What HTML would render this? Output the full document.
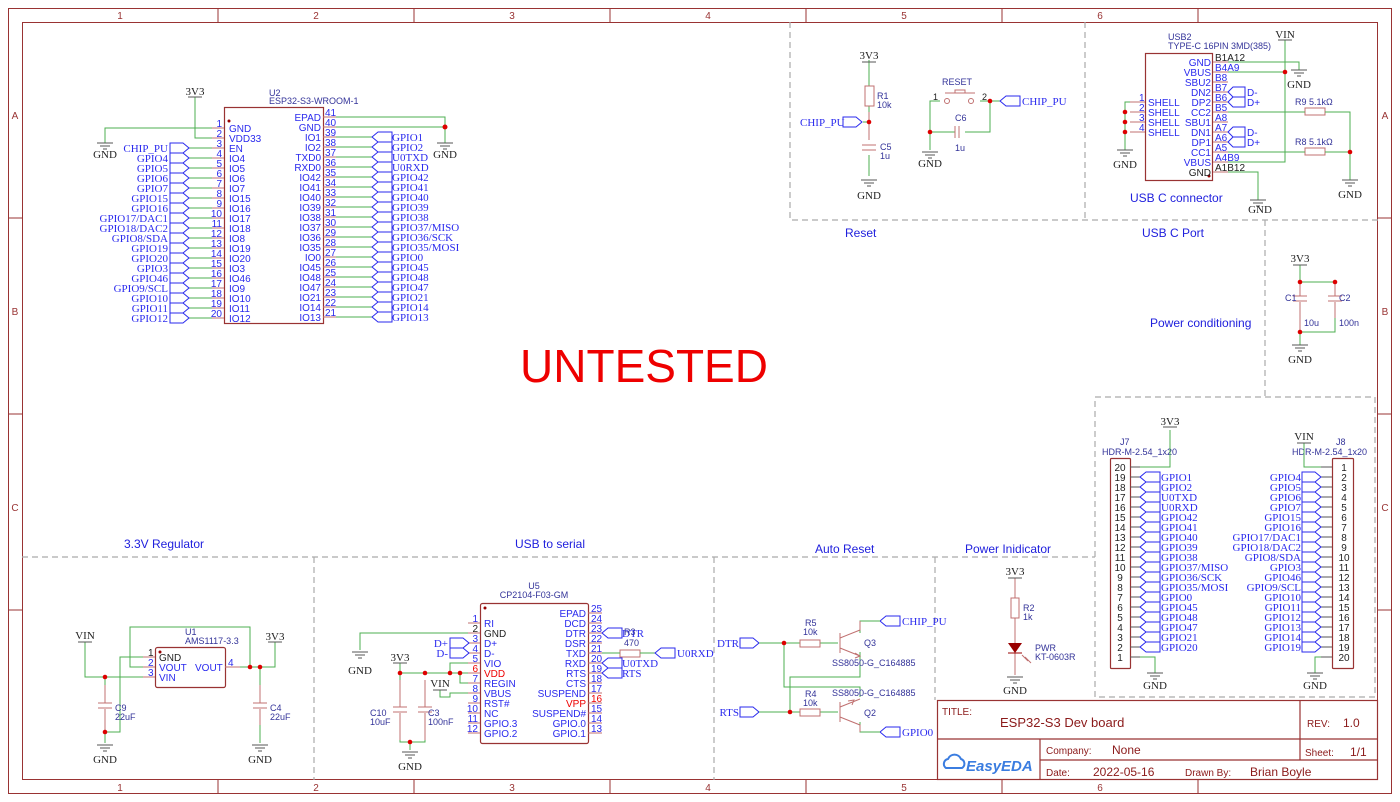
<!DOCTYPE html>
<html><head><meta charset="utf-8"><style>
html,body{margin:0;padding:0;background:#fff}
svg{display:block}
.s{font-family:"Liberation Sans",sans-serif}
.r{font-family:"Liberation Serif",serif}
</style></head><body>
<svg width="1400" height="802" viewBox="0 0 1400 802" xmlns="http://www.w3.org/2000/svg">
<defs>
<g id="gnd" stroke="#555" stroke-width="1" fill="none"><path d="M-8,0H8M-5,3H5M-2,6H2"/></g>
<path id="fr" d="M0,-5H13L19,0L13,5H0Z" fill="none" stroke="#2a2aee" stroke-width="1"/>
<path id="fl" d="M0,0L6,-5H20V5H6Z" fill="none" stroke="#2a2aee" stroke-width="1"/>
<g id="pwr" stroke="#555"><path d="M-7,0H7"/></g>
</defs>
<rect width="1400" height="802" fill="#fff"/>
<!-- frame -->
<g stroke="#993333" fill="none" stroke-width="1">
<rect x="8.5" y="8.5" width="1383" height="785"/>
<rect x="22.5" y="22.5" width="1355" height="757"/>
<path d="M218,8V22M414,8V22M610,8V22M806,8V22M1002,8V22M1198,8V22M218,780V794M414,780V794M610,780V794M806,780V794M1002,780V794M1198,780V794M8,218H22M8,414H22M8,610H22M1378,218H1392M1378,414H1392M1378,610H1392"/>
</g>
<g class="s" font-size="10" fill="#993333" text-anchor="middle">
<text x="120" y="19">1</text><text x="316" y="19">2</text><text x="512" y="19">3</text><text x="708" y="19">4</text><text x="904" y="19">5</text><text x="1100" y="19">6</text>
<text x="120" y="791">1</text><text x="316" y="791">2</text><text x="512" y="791">3</text><text x="708" y="791">4</text><text x="904" y="791">5</text><text x="1100" y="791">6</text>
<text x="15" y="119">A</text><text x="15" y="315">B</text><text x="15" y="511">C</text>
<text x="1385" y="119">A</text><text x="1385" y="315">B</text><text x="1385" y="511">C</text>
</g>
<!-- dashed sections -->
<g stroke="#aaa" stroke-dasharray="6,4" fill="none" stroke-width="1.2">
<path d="M790,22V220H1378M1085,22V220M1265,220V397M1095,397H1375V697H1095ZM22,557H1095M314,557V780M714,557V780M935,557V700"/>
</g>
<g class="s" font-size="12" fill="#2020dd">
<text x="845" y="237">Reset</text><text x="1142" y="237">USB C Port</text><text x="1130" y="202">USB C connector</text>
<text x="1150" y="327">Power conditioning</text><text x="124" y="548">3.3V Regulator</text><text x="515" y="548">USB to serial</text>
<text x="815" y="553">Auto Reset</text><text x="965" y="553">Power Inidicator</text>
</g>
<text x="644" y="382" class="s" font-size="46" fill="#ee0000" text-anchor="middle">UNTESTED</text>

<!-- ===== U2 ===== -->
<rect x="224.5" y="107.5" width="99" height="216" fill="none" stroke="#993333" stroke-width="1.2"/>
<circle cx="229" cy="121" r="1.5" fill="#990000"/>
<text x="269" y="96" class="s" font-size="9" fill="#333399">U2</text>
<text x="269" y="104" class="s" font-size="9" fill="#333399">ESP32-S3-WROOM-1</text>
<g stroke="#c07070"><path d="M212,128H224M212,138H224M212,148H224M212,158H224M212,168H224M212,178H224M212,188H224M212,198H224M212,208H224M212,218H224M212,228H224M212,238H224M212,248H224M212,258H224M212,268H224M212,278H224M212,288H224M212,298H224M212,308H224M212,318H224"/>
<path d="M323,117H336M323,127H336M323,137H336M323,147H336M323,157H336M323,167H336M323,177H336M323,187H336M323,197H336M323,207H336M323,217H336M323,227H336M323,237H336M323,247H336M323,257H336M323,267H336M323,277H336M323,287H336M323,297H336M323,307H336M323,317H336"/></g>
<g stroke="#4caf50" fill="none"><path d="M212,128H105V143M212,138H195V97M189,148H212M189,158H212M189,168H212M189,178H212M189,188H212M189,198H212M189,208H212M189,218H212M189,228H212M189,238H212M189,248H212M189,258H212M189,268H212M189,278H212M189,288H212M189,298H212M189,308H212M189,318H212"/>
<path d="M336,117H445V143M336,127H445M336,137H372M336,147H372M336,157H372M336,167H372M336,177H372M336,187H372M336,197H372M336,207H372M336,217H372M336,227H372M336,237H372M336,247H372M336,257H372M336,267H372M336,277H372M336,287H372M336,297H372M336,307H372M336,317H372"/></g>
<circle cx="445" cy="127" r="2.5" fill="#d00"/>
<use href="#gnd" x="105" y="143"/><use href="#gnd" x="445" y="143"/><use href="#pwr" x="195" y="97"/>
<g class="r" font-size="11" fill="#222" text-anchor="middle"><text x="105" y="158">GND</text><text x="445" y="158">GND</text><text x="195" y="95">3V3</text></g>
<g><use href="#fr" x="170" y="148"/><use href="#fr" x="170" y="158"/><use href="#fr" x="170" y="168"/><use href="#fr" x="170" y="178"/><use href="#fr" x="170" y="188"/><use href="#fr" x="170" y="198"/><use href="#fr" x="170" y="208"/><use href="#fr" x="170" y="218"/><use href="#fr" x="170" y="228"/><use href="#fr" x="170" y="238"/><use href="#fr" x="170" y="248"/><use href="#fr" x="170" y="258"/><use href="#fr" x="170" y="268"/><use href="#fr" x="170" y="278"/><use href="#fr" x="170" y="288"/><use href="#fr" x="170" y="298"/><use href="#fr" x="170" y="308"/><use href="#fr" x="170" y="318"/>
<use href="#fl" x="372" y="137"/><use href="#fl" x="372" y="147"/><use href="#fl" x="372" y="157"/><use href="#fl" x="372" y="167"/><use href="#fl" x="372" y="177"/><use href="#fl" x="372" y="187"/><use href="#fl" x="372" y="197"/><use href="#fl" x="372" y="207"/><use href="#fl" x="372" y="217"/><use href="#fl" x="372" y="227"/><use href="#fl" x="372" y="237"/><use href="#fl" x="372" y="247"/><use href="#fl" x="372" y="257"/><use href="#fl" x="372" y="267"/><use href="#fl" x="372" y="277"/><use href="#fl" x="372" y="287"/><use href="#fl" x="372" y="297"/><use href="#fl" x="372" y="307"/><use href="#fl" x="372" y="317"/></g>
<g class="r" font-size="11" fill="#2a2aee" text-anchor="end">
<text x="168" y="152">CHIP_PU</text><text x="168" y="162">GPIO4</text><text x="168" y="172">GPIO5</text><text x="168" y="182">GPIO6</text><text x="168" y="192">GPIO7</text><text x="168" y="202">GPIO15</text><text x="168" y="212">GPIO16</text><text x="168" y="222">GPIO17/DAC1</text><text x="168" y="232">GPIO18/DAC2</text><text x="168" y="242">GPIO8/SDA</text><text x="168" y="252">GPIO19</text><text x="168" y="262">GPIO20</text><text x="168" y="272">GPIO3</text><text x="168" y="282">GPIO46</text><text x="168" y="292">GPIO9/SCL</text><text x="168" y="302">GPIO10</text><text x="168" y="312">GPIO11</text><text x="168" y="322">GPIO12</text></g>
<g class="r" font-size="11" fill="#2a2aee">
<text x="392" y="141">GPIO1</text><text x="392" y="151">GPIO2</text><text x="392" y="161">U0TXD</text><text x="392" y="171">U0RXD</text><text x="392" y="181">GPIO42</text><text x="392" y="191">GPIO41</text><text x="392" y="201">GPIO40</text><text x="392" y="211">GPIO39</text><text x="392" y="221">GPIO38</text><text x="392" y="231">GPIO37/MISO</text><text x="392" y="241">GPIO36/SCK</text><text x="392" y="251">GPIO35/MOSI</text><text x="392" y="261">GPIO0</text><text x="392" y="271">GPIO45</text><text x="392" y="281">GPIO48</text><text x="392" y="291">GPIO47</text><text x="392" y="301">GPIO21</text><text x="392" y="311">GPIO14</text><text x="392" y="321">GPIO13</text></g>
<g class="s" font-size="10" fill="#2a2aee">
<text x="229" y="132">GND</text><text x="229" y="142">VDD33</text><text x="229" y="152">EN</text><text x="229" y="162">IO4</text><text x="229" y="172">IO5</text><text x="229" y="182">IO6</text><text x="229" y="192">IO7</text><text x="229" y="202">IO15</text><text x="229" y="212">IO16</text><text x="229" y="222">IO17</text><text x="229" y="232">IO18</text><text x="229" y="242">IO8</text><text x="229" y="252">IO19</text><text x="229" y="262">IO20</text><text x="229" y="272">IO3</text><text x="229" y="282">IO46</text><text x="229" y="292">IO9</text><text x="229" y="302">IO10</text><text x="229" y="312">IO11</text><text x="229" y="322">IO12</text>
<g text-anchor="end"><text x="222" y="127">1</text><text x="222" y="137">2</text><text x="222" y="147">3</text><text x="222" y="157">4</text><text x="222" y="167">5</text><text x="222" y="177">6</text><text x="222" y="187">7</text><text x="222" y="197">8</text><text x="222" y="207">9</text><text x="222" y="217">10</text><text x="222" y="227">11</text><text x="222" y="237">12</text><text x="222" y="247">13</text><text x="222" y="257">14</text><text x="222" y="267">15</text><text x="222" y="277">16</text><text x="222" y="287">17</text><text x="222" y="297">18</text><text x="222" y="307">19</text><text x="222" y="317">20</text>
<text x="321" y="121">EPAD</text><text x="321" y="131">GND</text><text x="321" y="141">IO1</text><text x="321" y="151">IO2</text><text x="321" y="161">TXD0</text><text x="321" y="171">RXD0</text><text x="321" y="181">IO42</text><text x="321" y="191">IO41</text><text x="321" y="201">IO40</text><text x="321" y="211">IO39</text><text x="321" y="221">IO38</text><text x="321" y="231">IO37</text><text x="321" y="241">IO36</text><text x="321" y="251">IO35</text><text x="321" y="261">IO0</text><text x="321" y="271">IO45</text><text x="321" y="281">IO48</text><text x="321" y="291">IO47</text><text x="321" y="301">IO21</text><text x="321" y="311">IO14</text><text x="321" y="321">IO13</text></g>
<text x="325" y="116">41</text><text x="325" y="126">40</text><text x="325" y="136">39</text><text x="325" y="146">38</text><text x="325" y="156">37</text><text x="325" y="166">36</text><text x="325" y="176">35</text><text x="325" y="186">34</text><text x="325" y="196">33</text><text x="325" y="206">32</text><text x="325" y="216">31</text><text x="325" y="226">30</text><text x="325" y="236">29</text><text x="325" y="246">28</text><text x="325" y="256">27</text><text x="325" y="266">26</text><text x="325" y="276">25</text><text x="325" y="286">24</text><text x="325" y="296">23</text><text x="325" y="306">22</text><text x="325" y="316">21</text>
</g>

<!-- ===== Reset ===== -->
<g stroke="#4caf50" fill="none"><path d="M869,60V86M869,106V140M869,155V176M863,122H869M940,101H930V150M930,132H955M965,132H990V101H980M990,101H1000"/></g>
<g stroke="#c07070" fill="none"><rect x="865" y="86" width="9" height="20"/><path d="M862,145H876M862,150H876M869,112V140M955,126V138M959,126V138"/><path d="M945,93H975M955,93V90H965V93"/></g>
<circle cx="947" cy="101" r="2.5" fill="none" stroke="#c07070"/><circle cx="971" cy="101" r="2.5" fill="none" stroke="#c07070"/>
<g fill="#d00"><circle cx="869" cy="122" r="2.3"/><circle cx="930" cy="132" r="2.3"/><circle cx="990" cy="101" r="2.3"/></g>
<use href="#pwr" x="869" y="62"/><use href="#gnd" x="869" y="180"/><use href="#gnd" x="930" y="152"/>
<use href="#fr" x="843" y="122"/><use href="#fl" x="1000" y="101"/>
<g class="r" font-size="11" fill="#222" text-anchor="middle"><text x="869" y="59">3V3</text><text x="869" y="199">GND</text><text x="930" y="167">GND</text></g>
<g class="r" font-size="11" fill="#2a2aee"><text x="800" y="126">CHIP_PU</text><text x="1022" y="105">CHIP_PU</text></g>
<g class="s" font-size="9" fill="#333399"><text x="877" y="99">R1</text><text x="877" y="108">10k</text><text x="880" y="150">C5</text><text x="880" y="159">1u</text><text x="942" y="85">RESET</text><text x="955" y="121">C6</text><text x="955" y="151">1u</text><text x="933" y="100" fill="#222">1</text><text x="982" y="100" fill="#222">2</text></g>

<!-- ===== USB C ===== -->
<rect x="1145.5" y="53.5" width="67" height="127" fill="none" stroke="#993333" stroke-width="1.2"/>
<circle cx="1209" cy="176" r="1.5" fill="#990000"/>
<g class="s" font-size="9" fill="#333399"><text x="1168" y="40">USB2</text><text x="1168" y="49">TYPE-C 16PIN 3MD(385)</text><text x="1295" y="105">R9 5.1kΩ</text><text x="1295" y="145">R8 5.1kΩ</text></g>
<g stroke="#c07070"><path d="M1213,62H1228M1213,72H1228M1213,82H1228M1213,92H1228M1213,102H1228M1213,112H1228M1213,122H1228M1213,132H1228M1213,142H1228M1213,152H1228M1213,162H1228M1213,172H1228M1130,102H1145M1130,112H1145M1130,122H1145M1130,132H1145"/><rect x="1305" y="108" width="20" height="7" fill="none"/><rect x="1305" y="148" width="20" height="7" fill="none"/></g>
<g stroke="#4caf50" fill="none"><path d="M1228,62H1299V70M1228,72H1285M1285,40V162H1228M1228,112H1305M1325,112H1350V180M1228,152H1305M1325,152H1350M1228,172H1258V200M1130,102H1125V150"/></g>
<g fill="#d00"><circle cx="1285" cy="72" r="2.3"/><circle cx="1350" cy="152" r="2.3"/><circle cx="1125" cy="112" r="2.3"/><circle cx="1125" cy="122" r="2.3"/><circle cx="1125" cy="132" r="2.3"/></g>
<g stroke="#2a2aee" fill="none"><path d="M1228,92L1233,87H1245V97H1233ZM1228,102L1233,97H1245V107H1233ZM1228,132L1233,127H1245V137H1233ZM1228,142L1233,137H1245V147H1233Z"/></g>
<use href="#gnd" x="1299" y="70"/><use href="#gnd" x="1350" y="180"/><use href="#gnd" x="1258" y="200"/><use href="#gnd" x="1125" y="150"/><use href="#pwr" x="1285" y="40"/>
<g class="r" font-size="11" fill="#222" text-anchor="middle"><text x="1285" y="38">VIN</text><text x="1299" y="88">GND</text><text x="1350" y="198">GND</text><text x="1260" y="213">GND</text><text x="1125" y="168">GND</text></g>
<g class="s" font-size="10" fill="#2a2aee"><g text-anchor="end"><text x="1211" y="66">GND</text><text x="1211" y="76">VBUS</text><text x="1211" y="86">SBU2</text><text x="1211" y="96">DN2</text><text x="1211" y="106">DP2</text><text x="1211" y="116">CC2</text><text x="1211" y="126">SBU1</text><text x="1211" y="136">DN1</text><text x="1211" y="146">DP1</text><text x="1211" y="156">CC1</text><text x="1211" y="166">VBUS</text><text x="1211" y="176" fill="#222">GND</text></g>
<text x="1148" y="106">SHELL</text><text x="1148" y="116">SHELL</text><text x="1148" y="126">SHELL</text><text x="1148" y="136">SHELL</text>
<text x="1139" y="101">1</text><text x="1139" y="111">2</text><text x="1139" y="121">3</text><text x="1139" y="131">4</text>
<text x="1215" y="61" fill="#222">B1A12</text><text x="1215" y="71">B4A9</text><text x="1215" y="81">B8</text><text x="1215" y="91">B7</text><text x="1215" y="101">B6</text><text x="1215" y="111">B5</text><text x="1215" y="121">A8</text><text x="1215" y="131">A7</text><text x="1215" y="141">A6</text><text x="1215" y="151">A5</text><text x="1215" y="161">A4B9</text><text x="1215" y="171" fill="#222">A1B12</text>
<text x="1247" y="96">D-</text><text x="1247" y="106">D+</text><text x="1247" y="136">D-</text><text x="1247" y="146">D+</text></g>

<!-- ===== Power conditioning ===== -->
<g stroke="#4caf50" fill="none"><path d="M1300,265V282H1335M1300,332H1335V315M1300,332V345"/></g>
<g stroke="#c07070" fill="none"><path d="M1300,282V296M1300,302V330M1335,282V296M1335,302V318M1293,296H1307M1293,301H1307M1328,296H1342M1328,301H1342"/></g>
<g fill="#d00"><circle cx="1300" cy="282" r="2.3"/><circle cx="1335" cy="282" r="2.3"/><circle cx="1300" cy="332" r="2.3"/></g>
<use href="#pwr" x="1300" y="265"/><use href="#gnd" x="1300" y="345"/>
<g class="r" font-size="11" fill="#222" text-anchor="middle"><text x="1300" y="262">3V3</text><text x="1300" y="363">GND</text></g>
<g class="s" font-size="9" fill="#333399"><text x="1285" y="301">C1</text><text x="1339" y="301">C2</text><text x="1304" y="326">10u</text><text x="1339" y="326">100n</text></g>

<!-- ===== Headers ===== -->
<rect x="1110.5" y="458.5" width="20" height="210" rx="1" fill="none" stroke="#993333" stroke-width="1.2"/>
<rect x="1332.5" y="458.5" width="21" height="210" rx="1" fill="none" stroke="#993333" stroke-width="1.2"/>
<g class="s" font-size="9" fill="#333399"><text x="1120" y="445">J7</text><text x="1102" y="455">HDR-M-2.54_1x20</text><text x="1336" y="445">J8</text><text x="1292" y="455">HDR-M-2.54_1x20</text></g>
<g stroke="#555"><path d="M1130,467H1140M1130,477H1140M1130,487H1140M1130,497H1140M1130,507H1140M1130,517H1140M1130,527H1140M1130,537H1140M1130,547H1140M1130,557H1140M1130,567H1140M1130,577H1140M1130,587H1140M1130,597H1140M1130,607H1140M1130,617H1140M1130,627H1140M1130,637H1140M1130,647H1140M1130,657H1140"/>
<path d="M1321,467H1332M1321,477H1332M1321,487H1332M1321,497H1332M1321,507H1332M1321,517H1332M1321,527H1332M1321,537H1332M1321,547H1332M1321,557H1332M1321,567H1332M1321,577H1332M1321,587H1332M1321,597H1332M1321,607H1332M1321,617H1332M1321,627H1332M1321,637H1332M1321,647H1332M1321,657H1332"/></g>
<g stroke="#4caf50" fill="none"><path d="M1140,467H1170V430M1140,657H1155V673M1304,443V467H1321M1321,657H1315V673"/></g>
<use href="#pwr" x="1170" y="427"/><use href="#pwr" x="1304" y="443"/><use href="#gnd" x="1155" y="673"/><use href="#gnd" x="1315" y="673"/>
<g class="r" font-size="11" fill="#222" text-anchor="middle"><text x="1170" y="425">3V3</text><text x="1304" y="440">VIN</text><text x="1155" y="689">GND</text><text x="1315" y="689">GND</text></g>
<g><use href="#fl" x="1140" y="477"/><use href="#fl" x="1140" y="487"/><use href="#fl" x="1140" y="497"/><use href="#fl" x="1140" y="507"/><use href="#fl" x="1140" y="517"/><use href="#fl" x="1140" y="527"/><use href="#fl" x="1140" y="537"/><use href="#fl" x="1140" y="547"/><use href="#fl" x="1140" y="557"/><use href="#fl" x="1140" y="567"/><use href="#fl" x="1140" y="577"/><use href="#fl" x="1140" y="587"/><use href="#fl" x="1140" y="597"/><use href="#fl" x="1140" y="607"/><use href="#fl" x="1140" y="617"/><use href="#fl" x="1140" y="627"/><use href="#fl" x="1140" y="637"/><use href="#fl" x="1140" y="647"/>
<use href="#fr" x="1302" y="477"/><use href="#fr" x="1302" y="487"/><use href="#fr" x="1302" y="497"/><use href="#fr" x="1302" y="507"/><use href="#fr" x="1302" y="517"/><use href="#fr" x="1302" y="527"/><use href="#fr" x="1302" y="537"/><use href="#fr" x="1302" y="547"/><use href="#fr" x="1302" y="557"/><use href="#fr" x="1302" y="567"/><use href="#fr" x="1302" y="577"/><use href="#fr" x="1302" y="587"/><use href="#fr" x="1302" y="597"/><use href="#fr" x="1302" y="607"/><use href="#fr" x="1302" y="617"/><use href="#fr" x="1302" y="627"/><use href="#fr" x="1302" y="637"/><use href="#fr" x="1302" y="647"/></g>
<g class="r" font-size="11" fill="#2a2aee">
<text x="1161" y="481">GPIO1</text><text x="1161" y="491">GPIO2</text><text x="1161" y="501">U0TXD</text><text x="1161" y="511">U0RXD</text><text x="1161" y="521">GPIO42</text><text x="1161" y="531">GPIO41</text><text x="1161" y="541">GPIO40</text><text x="1161" y="551">GPIO39</text><text x="1161" y="561">GPIO38</text><text x="1161" y="571">GPIO37/MISO</text><text x="1161" y="581">GPIO36/SCK</text><text x="1161" y="591">GPIO35/MOSI</text><text x="1161" y="601">GPIO0</text><text x="1161" y="611">GPIO45</text><text x="1161" y="621">GPIO48</text><text x="1161" y="631">GPIO47</text><text x="1161" y="641">GPIO21</text><text x="1161" y="651">GPIO20</text>
<g text-anchor="end"><text x="1301" y="481">GPIO4</text><text x="1301" y="491">GPIO5</text><text x="1301" y="501">GPIO6</text><text x="1301" y="511">GPIO7</text><text x="1301" y="521">GPIO15</text><text x="1301" y="531">GPIO16</text><text x="1301" y="541">GPIO17/DAC1</text><text x="1301" y="551">GPIO18/DAC2</text><text x="1301" y="561">GPIO8/SDA</text><text x="1301" y="571">GPIO3</text><text x="1301" y="581">GPIO46</text><text x="1301" y="591">GPIO9/SCL</text><text x="1301" y="601">GPIO10</text><text x="1301" y="611">GPIO11</text><text x="1301" y="621">GPIO12</text><text x="1301" y="631">GPIO13</text><text x="1301" y="641">GPIO14</text><text x="1301" y="651">GPIO19</text></g></g>
<g class="s" font-size="10" fill="#222" text-anchor="middle">
<text x="1120" y="471">20</text><text x="1120" y="481">19</text><text x="1120" y="491">18</text><text x="1120" y="501">17</text><text x="1120" y="511">16</text><text x="1120" y="521">15</text><text x="1120" y="531">14</text><text x="1120" y="541">13</text><text x="1120" y="551">12</text><text x="1120" y="561">11</text><text x="1120" y="571">10</text><text x="1120" y="581">9</text><text x="1120" y="591">8</text><text x="1120" y="601">7</text><text x="1120" y="611">6</text><text x="1120" y="621">5</text><text x="1120" y="631">4</text><text x="1120" y="641">3</text><text x="1120" y="651">2</text><text x="1120" y="661">1</text>
<text x="1344" y="471">1</text><text x="1344" y="481">2</text><text x="1344" y="491">3</text><text x="1344" y="501">4</text><text x="1344" y="511">5</text><text x="1344" y="521">6</text><text x="1344" y="531">7</text><text x="1344" y="541">8</text><text x="1344" y="551">9</text><text x="1344" y="561">10</text><text x="1344" y="571">11</text><text x="1344" y="581">12</text><text x="1344" y="591">13</text><text x="1344" y="601">14</text><text x="1344" y="611">15</text><text x="1344" y="621">16</text><text x="1344" y="631">17</text><text x="1344" y="641">18</text><text x="1344" y="651">19</text><text x="1344" y="661">20</text></g>

<!-- ===== Regulator ===== -->
<rect x="155.5" y="647.5" width="70" height="40" rx="2" fill="none" stroke="#993333" stroke-width="1.2"/>
<circle cx="160" cy="652" r="1.5" fill="#990000"/>
<g stroke="#c07070"><path d="M143,657H155M143,667H155M143,677H155M225,667H240M105,685V703M105,709V730M98,703H112M98,708H112M260,685V703M260,709V725M253,703H267M253,708H267"/></g>
<g stroke="#4caf50" fill="none"><path d="M240,667H275V642M250,667V627H130V667H143M85,642V677H143M105,677V685M105,730V743M105,732H120V657H143M260,667V685M260,725V743"/></g>
<g fill="#d00"><circle cx="250" cy="667" r="2.3"/><circle cx="260" cy="667" r="2.3"/><circle cx="105" cy="677" r="2.3"/><circle cx="105" cy="732" r="2.3"/></g>
<use href="#pwr" x="85" y="642"/><use href="#pwr" x="275" y="642"/><use href="#gnd" x="105" y="745"/><use href="#gnd" x="260" y="745"/>
<g class="r" font-size="11" fill="#222" text-anchor="middle"><text x="85" y="639">VIN</text><text x="275" y="640">3V3</text><text x="105" y="763">GND</text><text x="260" y="763">GND</text></g>
<g class="s" font-size="9" fill="#333399"><text x="185" y="635">U1</text><text x="185" y="644">AMS1117-3.3</text><text x="115" y="711">C9</text><text x="115" y="720">22uF</text><text x="270" y="711">C4</text><text x="270" y="720">22uF</text></g>
<g class="s" font-size="10" fill="#2a2aee"><text x="159" y="661" fill="#222">GND</text><text x="159" y="671">VOUT</text><text x="159" y="681">VIN</text><text x="195" y="671">VOUT</text><text x="148" y="656" fill="#222">1</text><text x="148" y="666">2</text><text x="148" y="676">3</text><text x="228" y="666">4</text></g>

<!-- ===== CP2104 ===== -->
<rect x="480.5" y="603.5" width="108" height="140" rx="2" fill="none" stroke="#993333" stroke-width="1.2"/>
<circle cx="485" cy="608" r="1.5" fill="#990000"/>
<g class="s" font-size="9" fill="#333399" text-anchor="middle"><text x="534" y="589">U5</text><text x="534" y="598">CP2104-F03-GM</text></g>
<g stroke="#c07070"><path d="M468,623H480M468,633H480M468,643H480M468,653H480M468,663H480M468,673H480M468,683H480M468,693H480M468,703H480M468,713H480M468,723H480M468,733H480M588,613H602M588,623H602M588,633H602M588,643H602M588,653H602M588,663H602M588,673H602M588,683H602M588,693H602M588,703H602M588,713H602M588,723H602M588,733H602"/>
<path d="M400,680V707M400,713V740M393,707H407M393,712H407M425,680V707M425,713V740M418,707H432M418,712H432"/><rect x="620" y="650" width="20" height="7" fill="none"/></g>
<g stroke="#4caf50" fill="none"><path d="M468,633H360V650M468,663H450V673M400,663V680M400,673H468M460,673V683H468M440,690V697H450V693H468M400,740V742H425V740M410,742V750M602,653H620M640,653H655"/></g>
<g fill="#d00"><circle cx="400" cy="673" r="2.3"/><circle cx="425" cy="673" r="2.3"/><circle cx="450" cy="673" r="2.3"/><circle cx="460" cy="673" r="2.3"/><circle cx="410" cy="742" r="2.3"/></g>
<use href="#pwr" x="400" y="663"/><use href="#pwr" x="440" y="690"/><use href="#gnd" x="360" y="652"/><use href="#gnd" x="410" y="752"/>
<g class="r" font-size="11" fill="#222" text-anchor="middle"><text x="400" y="661">3V3</text><text x="440" y="687">VIN</text><text x="360" y="674">GND</text><text x="410" y="770">GND</text></g>
<use href="#fr" x="450" y="643"/><use href="#fr" x="450" y="653"/><use href="#fl" x="602" y="633"/><use href="#fl" x="602" y="663"/><use href="#fl" x="602" y="673"/><use href="#fl" x="655" y="653"/>
<g class="r" font-size="11" fill="#2a2aee"><text x="448" y="647" text-anchor="end">D+</text><text x="448" y="657" text-anchor="end">D-</text><text x="622" y="637">DTR</text><text x="622" y="667">U0TXD</text><text x="622" y="677">RTS</text><text x="677" y="657">U0RXD</text></g>
<g class="s" font-size="9" fill="#333399"><text x="624" y="635">R3</text><text x="624" y="646">470</text><text x="370" y="716">C10</text><text x="370" y="725">10uF</text><text x="428" y="716">C3</text><text x="428" y="725">100nF</text></g>
<g class="s" font-size="10" fill="#2a2aee">
<text x="484" y="627">RI</text><text x="484" y="637" fill="#222">GND</text><text x="484" y="647">D+</text><text x="484" y="657">D-</text><text x="484" y="667">VIO</text><text x="484" y="677" fill="#e00">VDD</text><text x="484" y="687">REGIN</text><text x="484" y="697">VBUS</text><text x="484" y="707">RST#</text><text x="484" y="717">NC</text><text x="484" y="727">GPIO.3</text><text x="484" y="737">GPIO.2</text>
<g text-anchor="end"><text x="586" y="617">EPAD</text><text x="586" y="627">DCD</text><text x="586" y="637">DTR</text><text x="586" y="647">DSR</text><text x="586" y="657">TXD</text><text x="586" y="667">RXD</text><text x="586" y="677">RTS</text><text x="586" y="687">CTS</text><text x="586" y="697">SUSPEND</text><text x="586" y="707" fill="#e00">VPP</text><text x="586" y="717">SUSPEND#</text><text x="586" y="727">GPIO.0</text><text x="586" y="737">GPIO.1</text>
<text x="478" y="622">1</text><text x="478" y="632" fill="#222">2</text><text x="478" y="642">3</text><text x="478" y="652">4</text><text x="478" y="662">5</text><text x="478" y="672" fill="#e00">6</text><text x="478" y="682">7</text><text x="478" y="692">8</text><text x="478" y="702">9</text><text x="478" y="712">10</text><text x="478" y="722">11</text><text x="478" y="732">12</text></g>
<text x="591" y="612">25</text><text x="591" y="622">24</text><text x="591" y="632">23</text><text x="591" y="642">22</text><text x="591" y="652">21</text><text x="591" y="662">20</text><text x="591" y="672">19</text><text x="591" y="682">18</text><text x="591" y="692">17</text><text x="591" y="702" fill="#e00">16</text><text x="591" y="712">15</text><text x="591" y="722">14</text><text x="591" y="732">13</text></g>

<!-- ===== Auto reset ===== -->
<use href="#fr" x="740" y="643"/><use href="#fr" x="740" y="712"/><use href="#fl" x="880" y="621"/><use href="#fl" x="880" y="732"/>
<g class="r" font-size="11" fill="#2a2aee"><text x="739" y="647" text-anchor="end">DTR</text><text x="739" y="716" text-anchor="end">RTS</text><text x="902" y="625">CHIP_PU</text><text x="902" y="736">GPIO0</text></g>
<g stroke="#4caf50" fill="none"><path d="M759,643H800M820,643H838M784,643V687H860V697M759,712H800M820,712H838M790,712V677H860V652M860,633V621H880M860,722V732H880"/></g>
<g stroke="#c07070" fill="none"><rect x="800" y="640" width="20" height="7"/><rect x="800" y="709" width="20" height="7"/><path d="M840,633V653M840,702V722M840,638L860,630V621M840,648L860,656M840,707L860,699M840,717L860,725V732"/><path d="M855,653L860,656L855,658" stroke-width="1"/><path d="M848,701L854,700L852,705"/></g>
<g fill="#d00"><circle cx="784" cy="643" r="2.3"/><circle cx="790" cy="712" r="2.3"/></g>
<g class="s" font-size="9" fill="#333399"><text x="805" y="626">R5</text><text x="803" y="635">10k</text><text x="864" y="646">Q3</text><text x="832" y="666">SS8050-G_C164885</text><text x="832" y="696">SS8050-G_C164885</text><text x="805" y="697">R4</text><text x="803" y="706">10k</text><text x="864" y="716">Q2</text></g>

<!-- ===== Power indicator ===== -->
<g stroke="#c07070" fill="none"><path d="M1015,578V598M1015,618V643M1015,653V675"/><rect x="1011" y="598" width="8" height="20"/><path d="M1022,655L1028,661M1025,657L1031,663"/></g>
<path d="M1008,643H1022L1015,653Z" fill="#990000"/><path d="M1008,653H1022" stroke="#990000"/>
<use href="#pwr" x="1015" y="578"/><use href="#gnd" x="1015" y="677"/>
<g class="r" font-size="11" fill="#222" text-anchor="middle"><text x="1015" y="575">3V3</text><text x="1015" y="694">GND</text></g>
<g class="s" font-size="9" fill="#333399"><text x="1023" y="611">R2</text><text x="1023" y="620">1k</text><text x="1035" y="651">PWR</text><text x="1035" y="660">KT-0603R</text></g>

<!-- ===== Title block ===== -->
<g stroke="#993333" fill="none" stroke-width="1.2"><rect x="937.5" y="700.5" width="440" height="79"/><path d="M937,739H1378M1040,739V780M1040,760H1378M1300,700V760"/></g>
<g class="s" fill="#8b1a1a"><text x="942" y="715" font-size="10">TITLE:</text><text x="1000" y="727" font-size="13">ESP32-S3 Dev board</text><text x="1307" y="727" font-size="10">REV:</text><text x="1343" y="727" font-size="12">1.0</text>
<text x="1046" y="754" font-size="10">Company:</text><text x="1112" y="754" font-size="12">None</text><text x="1305" y="756" font-size="10">Sheet:</text><text x="1350" y="756" font-size="12">1/1</text>
<text x="1046" y="776" font-size="10">Date:</text><text x="1093" y="776" font-size="12">2022-05-16</text><text x="1185" y="776" font-size="10">Drawn By:</text><text x="1250" y="776" font-size="12">Brian Boyle</text></g>
<path d="M946,768a5,5 0 0 1 2,-9a7,7 0 0 1 13,0a5,5 0 0 1 1,9Z" fill="none" stroke="#3b7de0" stroke-width="2"/>
<text x="966" y="771" class="s" font-size="15" font-weight="bold" font-style="italic" fill="#3b7de0">EasyEDA</text>
</svg>
</body></html>
